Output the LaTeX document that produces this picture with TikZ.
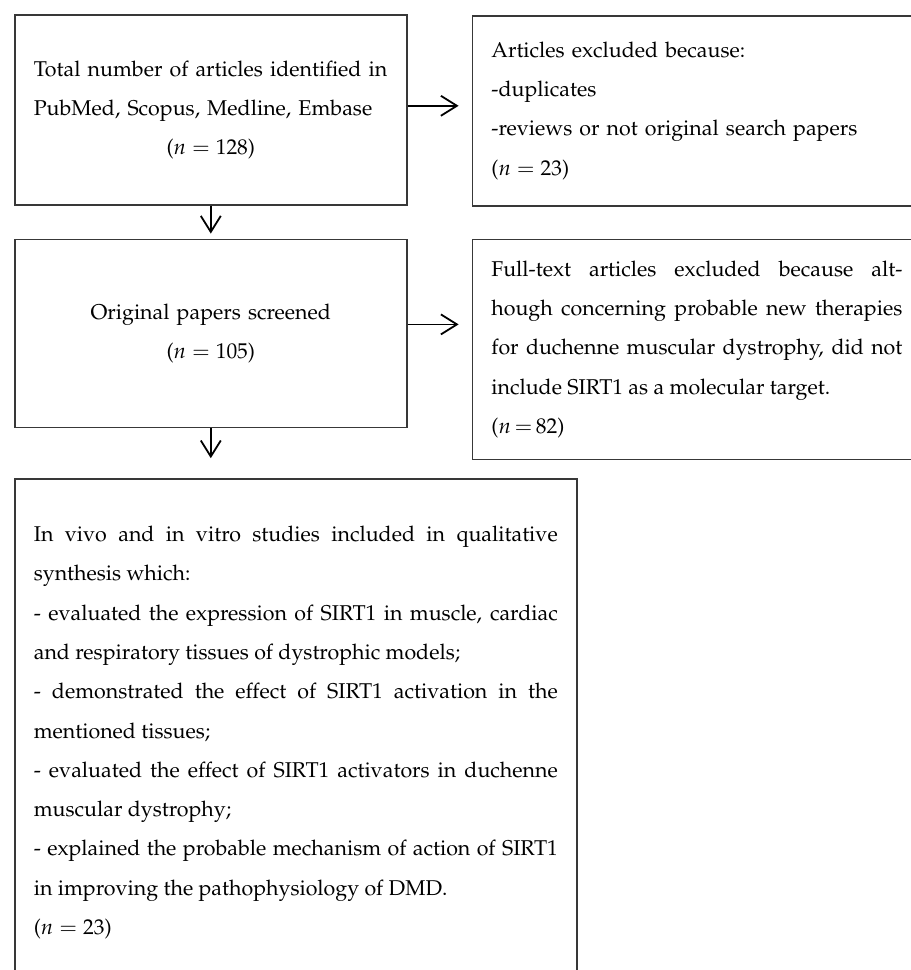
\documentclass[tikz,border=0pt]{standalone}
\usepackage[T1]{fontenc}
\usepackage{mathpazo}
\usetikzlibrary{positioning, arrows.meta}

\begin{document}
\begin{tikzpicture}[x=0.5pt,y=-0.5pt,
  blk/.style={draw=black!78,line width=0.8pt,rectangle,inner xsep=9.5pt,inner ysep=0pt,
    font=\fontsize{10.7}{19.65}\selectfont,text=black},
  arr/.style={-{Straight Barb[length=8pt,width=10pt]},line width=0.9pt}]
  \clip (0,0) rectangle (911,970);
  % left column
  \node[blk,anchor=north west,text width=177pt,minimum width=196pt,minimum height=95pt,align=left] (tot) at (14,14)
    {Total number of articles identified in\\ PubMed, Scopus, Medline, Embase\\ \makebox[\linewidth]{($n = 128$)}};
  \node[blk,below=16.5pt of tot,text width=177pt,minimum width=196pt,minimum height=94pt,align=center] (scr)
    {Original papers screened\\ \mbox{($n = 105$)}};
  \node[blk,below=25pt of scr.south west,anchor=north west,text width=262pt,minimum width=281pt,minimum height=253.5pt,align=justify] (inc)
    {In vivo and in vitro studies included in qualitative\linebreak synthesis which:\\
     - evaluated the expression of SIRT1 in muscle, cardiac\linebreak and respiratory tissues of dystrophic models;\\
     - demonstrated the effect of SIRT1 activation in the\linebreak mentioned tissues;\\
     - evaluated the effect of SIRT1 activators in duchenne\linebreak muscular dystrophy;\\
     - explained the probable mechanism of action of SIRT1\linebreak in improving the pathophysiology of DMD.\\
     \mbox{($n = 23$)}};
  % right column
  \node[blk,right=32pt of tot.north east,anchor=north west,yshift=-0.5pt,text width=205.5pt,minimum height=95pt,align=left] (ex)
    {Articles excluded because:\\ -duplicates\\ -reviews or not original search papers\\ \mbox{($n = 23$)}};
  \node[blk,right=32pt of scr.north east,anchor=north west,text width=205.5pt,minimum height=110pt,align=justify] (ft)
    {Full-text articles excluded because alt-\linebreak hough concerning probable new therapies\linebreak
     for duchenne muscular dystrophy, did not\linebreak include SIRT1 as a molecular target.\\
     \mbox{($n\,{=}\,82$)}};
  % arrows
  \draw[arr,shorten >=6.5pt] ([yshift=2pt]tot.east) -- ([yshift=2pt]tot.east -| ex.west);
  \draw[arr,shorten >=6.5pt] ([yshift=4.5pt]scr.east) -- ([yshift=4.5pt]scr.east -| ft.west);
  \draw[arr,shorten >=2.5pt] (tot.south) -- (scr.north);
  \draw[arr,shorten >=10pt] (scr.south) -- (scr.south |- inc.north);
\end{tikzpicture}
\end{document}
